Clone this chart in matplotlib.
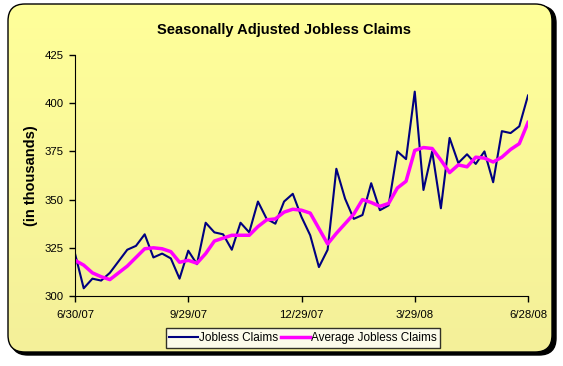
import pandas as pd
import numpy as np
import matplotlib
matplotlib.use('Agg')
import matplotlib.pyplot as plt
from matplotlib.patches import FancyBboxPatch
from matplotlib.colors import LinearSegmentedColormap

weeks = pd.date_range('2007-06-30', periods=53, freq='7D')
claims = [322, 304, 309, 308, 312, 318, 324, 326, 332, 320, 322, 319.5, 309,
          323.5, 316.5, 338, 333, 332, 324, 338, 333, 349, 340, 337.5, 349,
          353, 341, 331.5, 315, 324, 366, 350.5, 340, 342, 358.5, 344.5, 347,
          375, 371, 406, 355, 375, 345.5, 382, 369, 373.5, 368.5, 375, 359,
          385.5, 384.5, 388, 404]
avg_claims = [318.5, 316, 312, 310, 308.5, 312, 315.5, 320, 324.5, 325, 324.5,
              323, 317.5, 318.5, 317, 322, 328.5, 330, 331.5, 331.5, 331.5, 336,
              339.5, 340, 343.5, 345, 344.5, 343, 335, 327, 332.5, 337.5, 342.5,
              350, 348.5, 346.5, 348, 356, 359.5, 375.5, 377, 376.5, 370.5, 364,
              368, 367, 372, 371.5, 369.5, 372, 376, 379, 390]
tick_dates = pd.to_datetime(['2007-06-30', '2007-09-29', '2007-12-29',
                             '2008-03-29', '2008-06-28'])
tick_labels = ['6/30/07', '9/29/07', '12/29/07', '3/29/08', '6/28/08']
y_ticks = [300, 325, 350, 375, 400, 425]

plt.rcParams['font.family'] = ['Arial', 'Liberation Sans', 'DejaVu Sans']

fig = plt.figure(figsize=(5.63, 3.66), dpi=100)
W, H = 563, 366

# shadow + rounded yellow frame
fig.patches.append(FancyBboxPatch((11 / W, 11 / H), 545 / W, 349 / H,
                                  boxstyle='round,pad=0,rounding_size=0.03',
                                  transform=fig.transFigure, facecolor='black',
                                  edgecolor='black', mutation_aspect=W / H, zorder=0))
grad = LinearSegmentedColormap.from_list('yel', ['#f4f09a', '#ffff99'])
bg = fig.add_axes([8 / W, 14 / H, 544 / W, 348 / H], zorder=0.5)
bg.imshow(np.linspace(0, 1, 100).reshape(-1, 1), cmap=grad, aspect='auto',
          origin='lower', extent=[0, 1, 0, 1])
bg.set_axis_off()
frame = FancyBboxPatch((8 / W, 14 / H), 544 / W, 348 / H,
                       boxstyle='round,pad=0,rounding_size=0.03',
                       transform=fig.transFigure, facecolor='none',
                       edgecolor='black', linewidth=1, mutation_aspect=W / H,
                       zorder=1)
fig.patches.append(frame)
bg.images[0].set_clip_path(frame)

ax = fig.add_axes([75 / W, (366 - 296) / H, 453 / W, 241 / H], zorder=2)
ax.patch.set_alpha(0)
ax.plot(weeks, claims, color='#000080', lw=1.5, label='Jobless Claims')
ax.plot(weeks, avg_claims, color='#ff00ff', lw=2.5, label='Average Jobless Claims')

ax.set_xlim(weeks[0], weeks[-1])
ax.set_ylim(300, 425)
ax.set_yticks(y_ticks)
ax.set_xticks(tick_dates)
ax.set_xticklabels(tick_labels)
ax.tick_params(labelsize=8.2, length=4, width=1, colors='black', pad=6)
ax.tick_params(axis='y', pad=4)
for s in ['top', 'right']:
    ax.spines[s].set_visible(False)
ax.set_ylabel('(in thousands)', fontsize=10.5, fontweight='bold', labelpad=5)

fig.text(284 / W, 1 - 30 / H, 'Seasonally Adjusted Jobless Claims', ha='center',
         va='center', fontsize=10.5, fontweight='bold')

leg = fig.legend(loc='center', bbox_to_anchor=(303 / W, 1 - 338 / H), ncol=2,
                 fontsize=8.5, frameon=True, fancybox=False, edgecolor='black',
                 handlelength=2.4, handletextpad=0.1, columnspacing=0.3,
                 borderpad=0.3)
leg.get_frame().set_linewidth(1)

fig.savefig('out.png', dpi=100, facecolor='white')
